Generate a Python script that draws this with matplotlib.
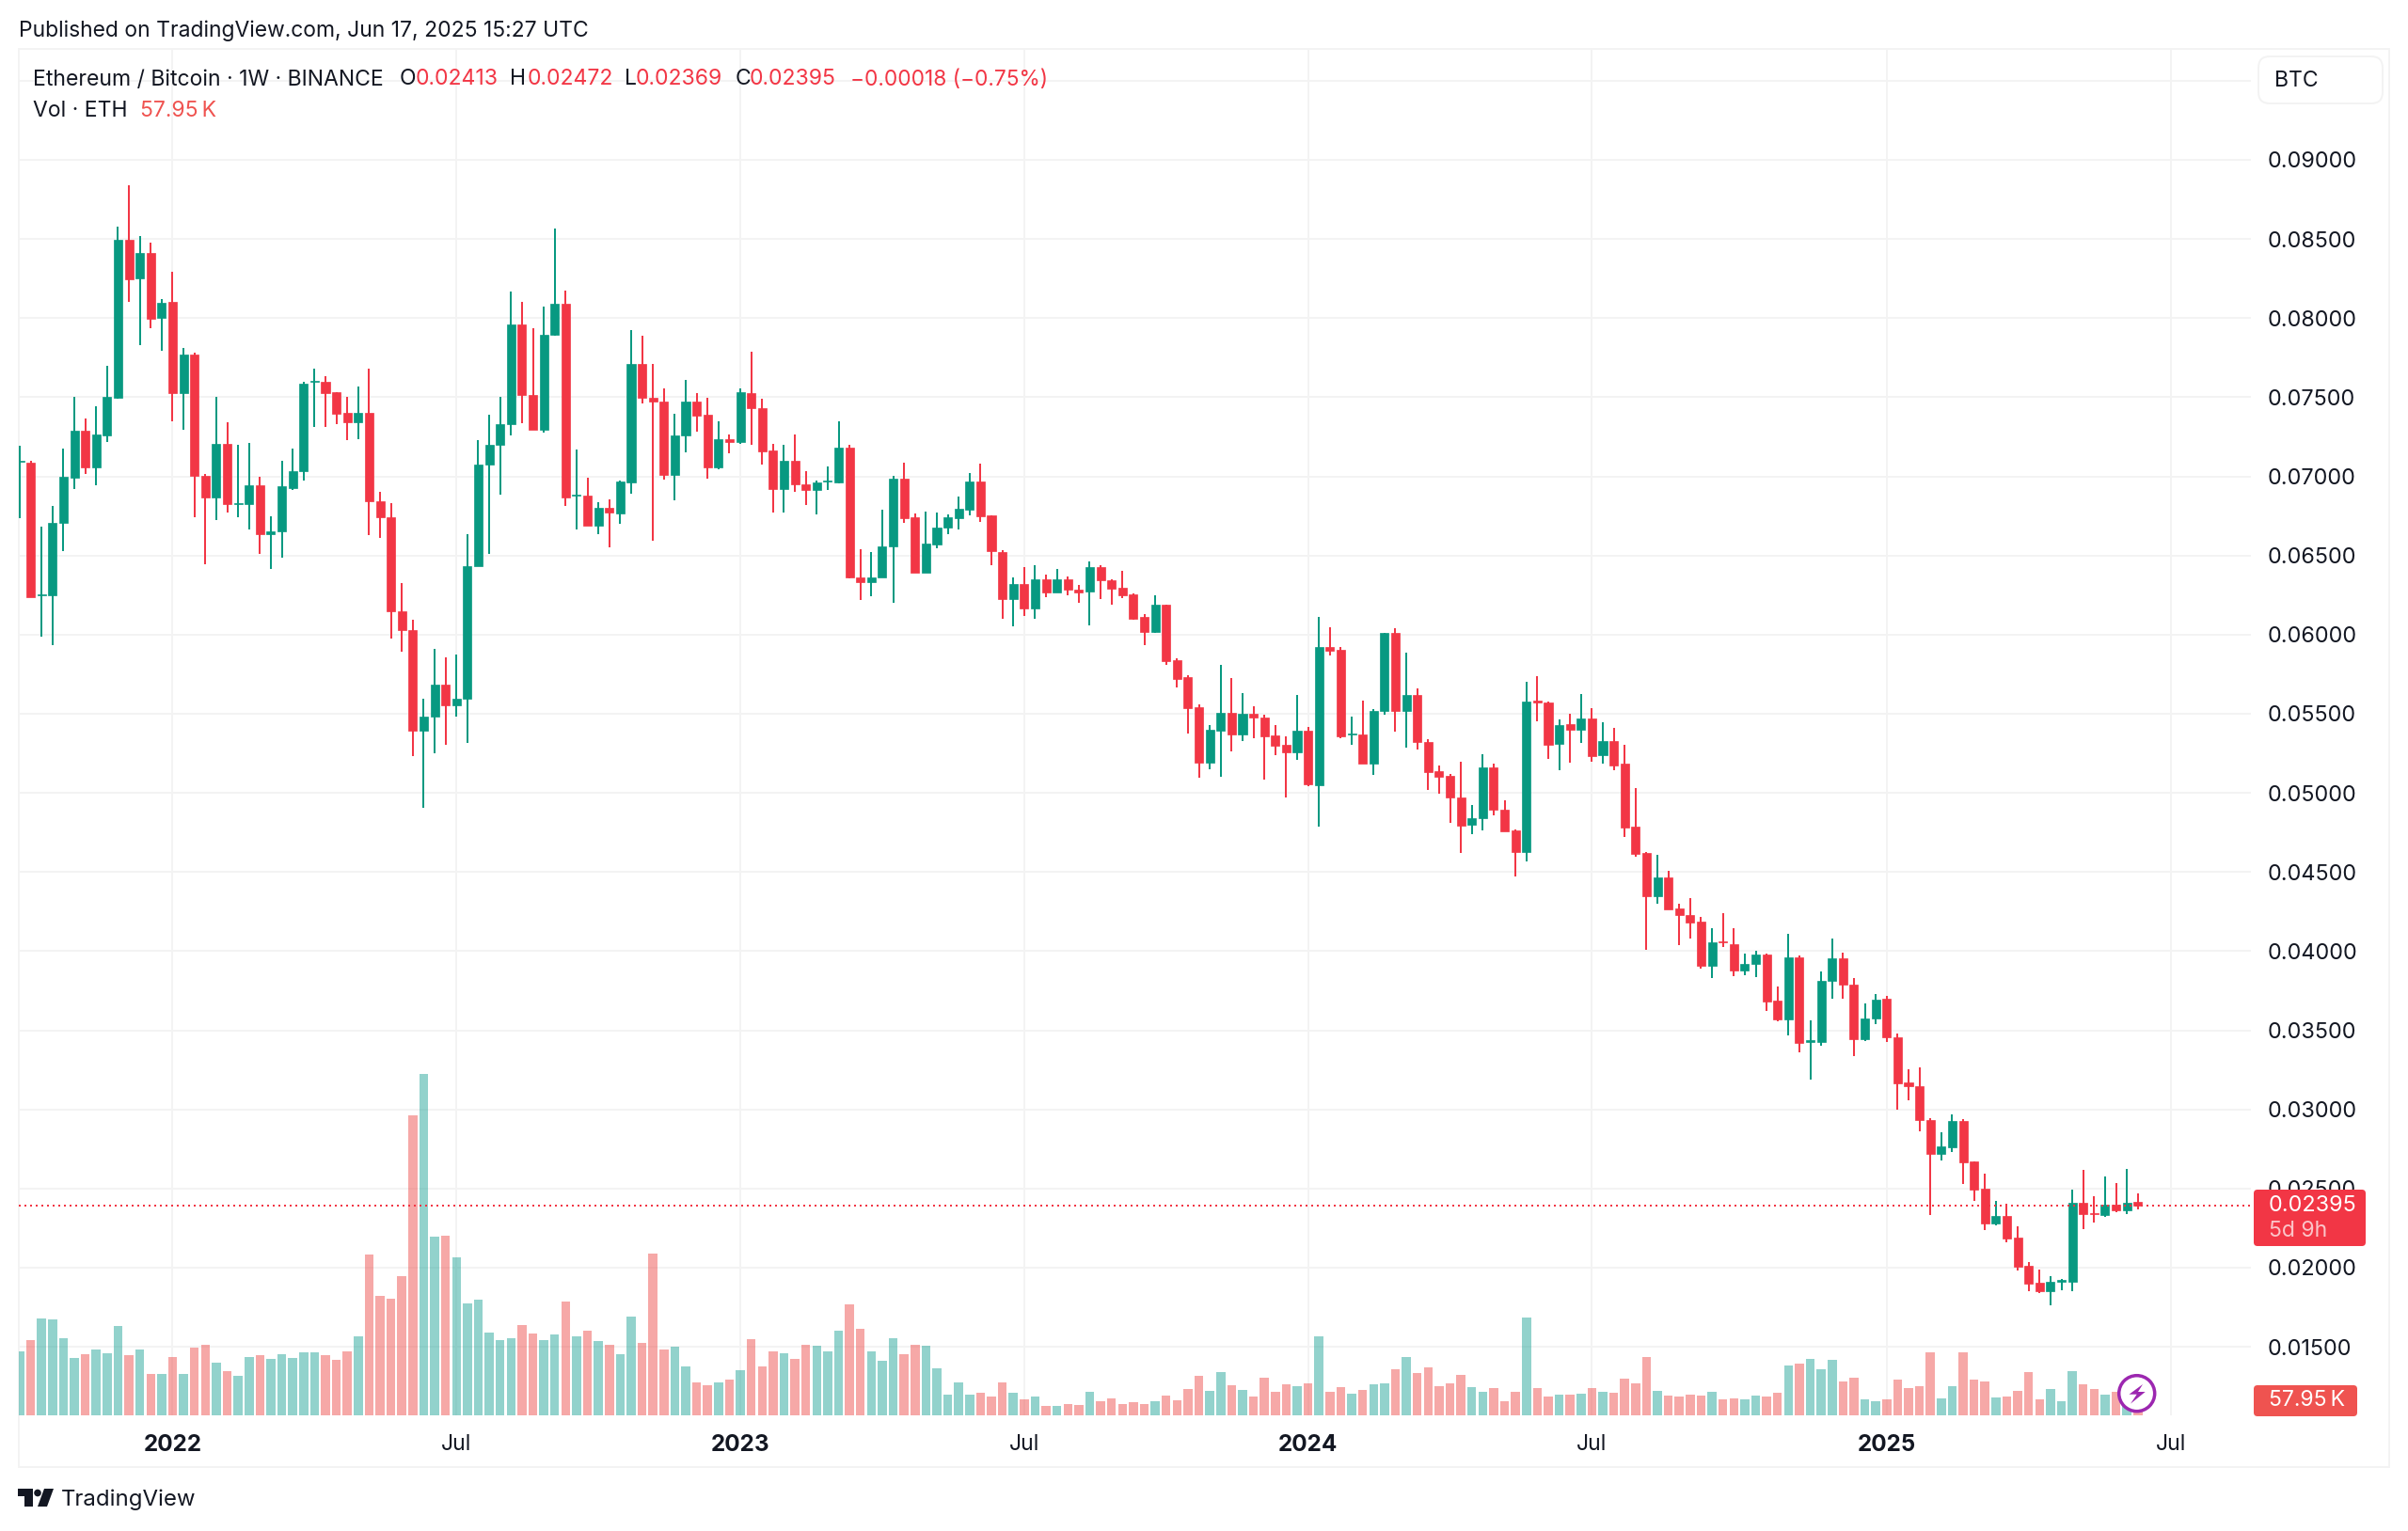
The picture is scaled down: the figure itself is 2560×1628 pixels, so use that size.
"""ETH/BTC weekly candles with volume, TradingView style."""
import numpy as np
import matplotlib
matplotlib.use("Agg")
import matplotlib.pyplot as plt
from matplotlib.patches import Circle, FancyBboxPatch, Polygon, Rectangle

plt.rcParams["font.family"] = ["Inter", "DejaVu Sans"]

# prices in 1e-5 BTC, one value per week from 2021-09-27
opens = [
    7091, 7086, 6249, 6247, 6704, 6990, 7287, 7055, 7261, 7496,
    8497, 8252, 8410, 8004, 8100, 7527, 7770, 7006, 6864, 7207,
    6825, 6825, 6941, 6634, 6652, 6926, 7031, 7597, 7599, 7530,
    7403, 7341, 7403, 6843, 6740, 6149, 6030, 5390, 5480, 5687,
    5552, 5594, 6435, 7073, 7197, 7331, 7961, 7517, 7292, 7896,
    8092, 6877, 6879, 6691, 6804, 6768, 6964, 7710, 7498, 7474,
    7010, 7258, 7474, 7387, 7056, 7236, 7216, 7524, 7433, 7163,
    6919, 7099, 6950, 6913, 6966, 6962, 7179, 6361, 6330, 6359,
    6556, 6984, 6742, 6389, 6572, 6675, 6738, 6792, 6966, 6754,
    6524, 6222, 6322, 6163, 6349, 6268, 6349, 6282, 6274, 6427,
    6345, 6294, 6254, 6109, 6014, 6189, 5841, 5732, 5542, 5189,
    5395, 5506, 5372, 5502, 5478, 5364, 5301, 5257, 5393, 5046,
    5919, 5903, 5368, 5370, 5184, 5516, 6012, 5516, 5617, 5324,
    5135, 5107, 4972, 4799, 4838, 5164, 4893, 4763, 4627, 5583,
    5571, 5312, 5433, 5399, 5472, 5239, 5328, 5182, 4785, 4619,
    4346, 4465, 4269, 4230, 4184, 3909, 4064, 4046, 3876, 3921,
    3977, 3689, 3569, 3962, 3427, 3427, 3812, 3956, 3790, 3442,
    3573, 3698, 3456, 3171, 3147, 2935, 2716, 2762, 2929, 2669,
    2502, 2280, 2329, 2191, 2012, 1903, 1853, 1913, 1911, 2409,
    2345, 2331, 2397, 2365, 2413,
]
highs = [
    7194, 7096, 6683, 6815, 7176, 7501, 7367, 7442, 7700, 8575,
    8841, 8518, 8477, 8121, 8294, 7811, 7780, 7013, 7504, 7339,
    7199, 7210, 6998, 6750, 7101, 7176, 7599, 7682, 7633, 7535,
    7501, 7568, 7682, 6900, 6833, 6327, 6097, 5594, 5911, 5854,
    5873, 6637, 7230, 7390, 7504, 8167, 8100, 7935, 8074, 8565,
    8175, 7171, 6993, 6838, 6853, 6976, 7923, 7889, 7710, 7554,
    7393, 7607, 7526, 7498, 7347, 7266, 7554, 7790, 7490, 7206,
    7197, 7266, 7030, 6974, 7060, 7347, 7197, 6540, 6524, 6790,
    7006, 7087, 6766, 6778, 6774, 6760, 6875, 7024, 7081, 6754,
    6536, 6361, 6427, 6441, 6381, 6415, 6367, 6316, 6462, 6439,
    6349, 6405, 6260, 6127, 6248, 6189, 5851, 5744, 5560, 5427,
    5810, 5727, 5629, 5548, 5494, 5429, 5358, 5617, 5415, 6111,
    6047, 5921, 5484, 5583, 5530, 6012, 6041, 5885, 5660, 5340,
    5176, 5117, 5198, 4923, 5243, 5186, 4951, 4769, 5702, 5737,
    5577, 5466, 5502, 5623, 5536, 5445, 5411, 5301, 5032, 4629,
    4607, 4506, 4299, 4338, 4214, 4143, 4241, 4143, 3983, 4000,
    3983, 3778, 4111, 3974, 3560, 3871, 4079, 3992, 3833, 3671,
    3732, 3718, 3480, 3256, 3266, 2946, 2855, 2968, 2939, 2669,
    2593, 2421, 2405, 2260, 2034, 1990, 1949, 1931, 2496, 2617,
    2450, 2575, 2536, 2623, 2472,
]
lows = [
    6737, 6239, 5989, 5932, 6526, 6918, 7016, 6941, 7220, 7491,
    8103, 7832, 7935, 7795, 7349, 7292, 6740, 6446, 6722, 6773,
    6740, 6667, 6513, 6412, 6484, 6915, 6972, 7313, 7313, 7328,
    7228, 7233, 6629, 6611, 5976, 5891, 5230, 4905, 5248, 5305,
    5480, 5315, 6435, 6513, 6882, 7256, 7336, 7292, 7274, 7891,
    6812, 6665, 6691, 6634, 6554, 6699, 6893, 7462, 6595, 6980,
    6847, 7153, 7280, 6986, 7044, 7147, 7204, 7199, 7074, 6774,
    6774, 6901, 6820, 6762, 6917, 6958, 6353, 6216, 6244, 6359,
    6199, 6704, 6389, 6389, 6544, 6635, 6663, 6756, 6710, 6441,
    6099, 6050, 6117, 6099, 6238, 6266, 6250, 6199, 6056, 6226,
    6187, 6232, 6093, 5933, 6008, 5806, 5669, 5377, 5095, 5149,
    5101, 5261, 5326, 5348, 5085, 5237, 4969, 5206, 5040, 4787,
    5870, 5348, 5301, 5184, 5113, 5492, 5389, 5285, 5273, 5016,
    4992, 4808, 4621, 4739, 4763, 4856, 4759, 4471, 4567, 5451,
    5212, 5146, 5188, 5318, 5194, 5182, 5146, 4724, 4597, 4008,
    4301, 4265, 4036, 4081, 3892, 3830, 4024, 3842, 3846, 3836,
    3623, 3556, 3466, 3361, 3189, 3403, 3700, 3700, 3337, 3431,
    3540, 3425, 2998, 3056, 2859, 2335, 2677, 2728, 2526, 2423,
    2238, 2268, 2163, 1980, 1853, 1841, 1762, 1859, 1853, 2244,
    2286, 2320, 2353, 2341, 2369,
]
closes = [
    7096, 6239, 6255, 6704, 6995, 7287, 7055, 7264, 7501, 8497,
    8247, 8410, 7997, 8097, 7527, 7770, 7003, 6864, 7207, 6825,
    6830, 6941, 6634, 6655, 6936, 7034, 7586, 7602, 7527, 7398,
    7341, 7403, 6840, 6740, 6146, 6030, 5390, 5480, 5687, 5555,
    5596, 6435, 7073, 7199, 7331, 7961, 7517, 7292, 7896, 8092,
    6869, 6882, 6691, 6804, 6773, 6968, 7710, 7494, 7470, 7010,
    7260, 7474, 7383, 7056, 7236, 7216, 7530, 7431, 7159, 6919,
    7099, 6947, 6913, 6960, 6972, 7179, 6359, 6330, 6361, 6558,
    6984, 6738, 6389, 6576, 6679, 6742, 6794, 6966, 6750, 6526,
    6222, 6322, 6163, 6349, 6268, 6349, 6284, 6268, 6427, 6343,
    6292, 6250, 6103, 6014, 6189, 5835, 5722, 5538, 5189, 5397,
    5506, 5372, 5502, 5474, 5360, 5297, 5257, 5393, 5052, 5919,
    5899, 5358, 5374, 5184, 5520, 6012, 5516, 5617, 5320, 5131,
    5103, 4969, 4793, 4842, 5162, 4891, 4759, 4627, 5577, 5571,
    5306, 5427, 5399, 5472, 5235, 5328, 5176, 4781, 4615, 4346,
    4465, 4265, 4226, 4180, 3909, 4058, 4058, 3876, 3919, 3977,
    3682, 3567, 3962, 3419, 3435, 3814, 3956, 3788, 3442, 3577,
    3692, 3454, 3167, 3149, 2931, 2716, 2766, 2927, 2667, 2492,
    2280, 2329, 2187, 2008, 1899, 1853, 1909, 1921, 2409, 2337,
    2339, 2397, 2365, 2409, 2395,
]
# volume in thousands of ETH
volumes = [
    264, 309, 398, 392, 317, 236, 250, 269, 254, 366,
    246, 272, 171, 171, 238, 171, 279, 290, 215, 182,
    164, 238, 246, 232, 250, 236, 258, 258, 246, 228,
    264, 323, 661, 489, 478, 571, 1233, 1400, 734, 738,
    649, 459, 474, 339, 309, 317, 370, 335, 309, 331,
    466, 323, 346, 305, 290, 250, 406, 298, 665, 272,
    283, 201, 134, 122, 134, 148, 185, 313, 201, 264,
    254, 232, 290, 286, 261, 346, 455, 354, 264, 223,
    317, 250, 290, 286, 193, 85, 134, 85, 93, 77,
    134, 93, 67, 77, 40, 40, 45, 41, 97, 59,
    70, 48, 55, 48, 59, 81, 63, 108, 164, 100,
    178, 122, 104, 77, 156, 97, 126, 118, 130, 325,
    97, 115, 89, 104, 126, 130, 189, 238, 174, 197,
    118, 130, 167, 115, 97, 111, 59, 97, 403, 111,
    77, 85, 85, 89, 111, 97, 93, 152, 130, 238,
    100, 81, 77, 85, 81, 97, 67, 70, 67, 81,
    77, 93, 205, 213, 231, 189, 227, 138, 156, 67,
    59, 67, 148, 111, 118, 258, 70, 118, 258, 148,
    140, 73, 77, 100, 178, 67, 107, 59, 182, 126,
    107, 85, 97, 39, 57.95,
]
price_ticks = [0.015, 0.02, 0.025, 0.03, 0.035, 0.04, 0.045, 0.05, 0.055,
               0.06, 0.065, 0.07, 0.075, 0.08, 0.085, 0.09, 0.095]
time_ticks = [14, 40, 66, 92, 118, 144, 171, 197]
time_labels = ["2022", "Jul", "2023", "Jul", "2024", "Jul", "2025", "Jul"]

UP = "#089981"
DOWN = "#F23645"
VOL_UP = "#26A69A"
VOL_DOWN = "#EF5350"
GRID = "#F3F3F3"
TEXT = "#131722"
W, H = 2560, 1628
LEFT, RIGHT, TOP, BOTTOM = 20, 2393, 52, 1505
PX = 72 / 100  # points per pixel at dpi 100


def main():
    o = np.array(opens) * 1e-5
    h = np.array(highs) * 1e-5
    l = np.array(lows) * 1e-5
    c = np.array(closes) * 1e-5
    x = np.arange(len(o))
    up = c >= o
    colors = np.where(up, UP, DOWN)

    fig = plt.figure(figsize=(W / 100, H / 100), dpi=100, facecolor="white")
    pos = [LEFT / W, 1 - BOTTOM / H, (RIGHT - LEFT) / W, (BOTTOM - TOP) / H]
    xlim = (-0.086, 204.36)
    ylim = (0.01067, 0.09701)

    # outer frame stays behind the candles
    frame = Rectangle((LEFT / W, 1 - 1560 / H), (2540 - LEFT) / W, (1560 - TOP) / H,
                      transform=fig.transFigure, fill=False, ec=GRID, lw=2 * PX, zorder=0.5)
    fig.add_artist(frame)

    # grid and axis labels sit at the back
    ax = fig.add_axes(pos, zorder=1)
    ax.patch.set_visible(False)
    ax.set_xlim(xlim)
    ax.set_ylim(ylim)
    ax.set_yticks(price_ticks)
    ax.set_yticklabels(["" if v == 0.095 else f"{v:.5f}" for v in price_ticks])
    ax.yaxis.tick_right()
    ax.set_xticks(time_ticks)
    ax.set_xticklabels(time_labels)
    ax.tick_params(axis="y", length=0, pad=18 * PX, labelsize=23.4 * PX, labelcolor=TEXT)
    ax.tick_params(axis="x", length=0, pad=20 * PX, labelsize=23 * PX, labelcolor=TEXT)
    for lab in ax.get_xticklabels():
        if lab.get_text().isdigit():
            lab.set_fontweight("bold")
            lab.set_fontsize(24.2 * PX)
    ax.grid(True, color=GRID, lw=2 * PX)
    ax.set_axisbelow(True)
    for s in ax.spines.values():
        s.set_visible(False)

    ax_vol = fig.add_axes(pos, zorder=2)
    ax_vol.patch.set_visible(False)
    ax_vol.axis("off")
    ax_vol.set_xlim(xlim)
    ax_vol.set_ylim(0, 5611)
    ax_vol.bar(x, volumes, width=0.82, color=np.where(up, VOL_UP, VOL_DOWN),
               alpha=0.5, linewidth=0)

    ax_c = fig.add_axes(pos, zorder=3)
    ax_c.patch.set_visible(False)
    ax_c.axis("off")
    ax_c.set_xlim(xlim)
    ax_c.set_ylim(ylim)
    ax_c.vlines(x, l, h, colors=colors, lw=2 * PX)
    ax_c.bar(x, np.abs(c - o), bottom=np.minimum(o, c), width=0.78, color=colors,
             edgecolor=colors, linewidth=0.5)
    ax_c.axhline(c[-1], color=DOWN, lw=2 * PX, ls=(0, (1, 2)))

    # everything outside the pane is placed in pixel coordinates
    ov = fig.add_axes([0, 0, 1, 1], zorder=4)
    ov.patch.set_visible(False)
    ov.axis("off")
    ov.set_xlim(0, W)
    ov.set_ylim(H, 0)

    def txt(px, py, s, size=23, color=TEXT, **kw):
        kw.setdefault("va", "center")
        return ov.text(px, py, s, fontsize=size * PX, color=color, **kw)

    txt(20, 32.5, "Published on TradingView.com, Jun 17, 2025 15:27 UTC", size=22.9)
    txt(35, 84.5, "Ethereum / Bitcoin · 1W · BINANCE")
    for px, s in [(425, "O"), (542, "H"), (664, "L"), (782, "C")]:
        txt(px, 84.5, s)
    for px, s in [(442, "0.02413"), (561, "0.02472"), (676, "0.02369"), (797, "0.02395")]:
        txt(px, 84.5, s, color=DOWN)
    txt(904, 84.5, "−0.00018 (−0.75%)", size=22.7, color=DOWN)
    txt(35, 117.5, "Vol · ETH")
    txt(149, 117.5, "57.95\u2009K", color=VOL_DOWN)

    ov.add_patch(FancyBboxPatch((2401 + 10, 60 + 10), 132 - 20, 50 - 20,
                                boxstyle="round,pad=10,rounding_size=12",
                                fc="white", ec=GRID, lw=2 * PX))
    txt(2418, 86.5, "BTC")

    ov.add_patch(FancyBboxPatch((2396 + 4, 1265 + 4), 119 - 8, 60 - 8,
                                boxstyle="round,pad=4,rounding_size=4",
                                fc=DOWN, ec="none"))
    txt(2412, 1282, "0.02395", color="white", size=23.4)
    txt(2412, 1309, "5d 9h", color="#FBC4C8")

    ov.add_patch(FancyBboxPatch((2396 + 4, 1473 + 4), 110 - 8, 33 - 8,
                                boxstyle="round,pad=4,rounding_size=4",
                                fc=VOL_DOWN, ec="none"))
    txt(2412, 1489, "57.95\u2009K", color="white")

    # lightning badge on the last bar
    ov.add_patch(Circle((2271.7, 1481.7), 19, fc="white", ec="#9C27B0", lw=3.5 * PX))
    ov.add_patch(Polygon([(2278, 1472), (2263.5, 1482.7), (2271.7, 1482.7), (2265, 1492.7),
                          (2280.7, 1480), (2273, 1480)], fc="#9C27B0", ec="none"))

    # TradingView mark and wordmark
    ov.add_patch(Polygon([(19, 1583), (35, 1583), (35, 1602), (26, 1602), (26, 1591), (19, 1591)],
                         fc=TEXT, ec="none"))
    ov.add_patch(Circle((40, 1587.5), 3.8, fc=TEXT, ec="none"))
    ov.add_patch(Polygon([(47, 1583), (57, 1583), (50, 1602), (40, 1602)], fc=TEXT, ec="none"))
    txt(65, 1595, "TradingView", size=24)

    fig.savefig("out.png", dpi=100, facecolor="white")


if __name__ == "__main__":
    main()
